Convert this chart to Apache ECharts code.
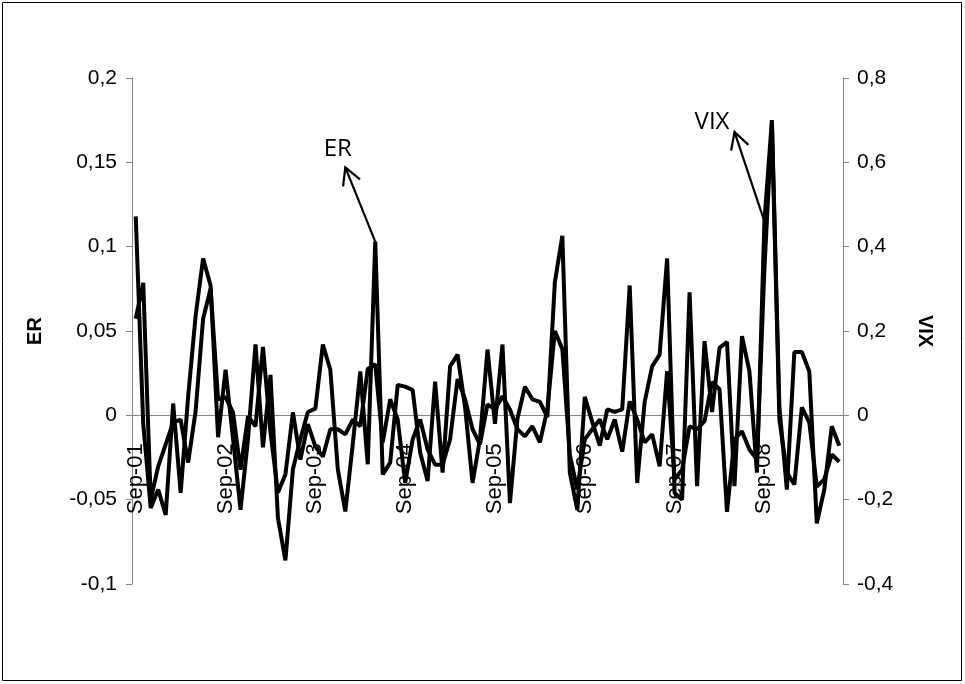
<!DOCTYPE html>
<html>
<head>
<meta charset="utf-8">
<script src="https://cdn.jsdelivr.net/npm/echarts@6/dist/echarts.min.js"></script>
<style>
html,body{margin:0;padding:0;background:#fff;}
#chart{width:965px;height:684px;}
</style>
</head>
<body>
<div id="chart"></div>
<script>
// Monthly observations from Sep-01 to Jul-09
const monthNames = ['Sep','Oct','Nov','Dec','Jan','Feb','Mar','Apr','May','Jun','Jul','Aug'];
const startYear = 1; // 2001, starting in September
const nPoints = 95;
const categories = [];
for (let i = 0; i < nPoints; i++) {
  const m = i % 12;
  const yr = startYear + Math.floor((i + 8) / 12);
  categories.push(monthNames[m] + '-' + String(yr).padStart(2, '0'));
}

// ER (left axis)
const erValues = [
  0.118, -0.005, -0.055, -0.044, -0.059, 0.007, -0.046, 0.011, 0.059, 0.093,
  0.077, -0.013, 0.027, -0.014, -0.056, -0.014, 0.042, -0.019, 0.024, -0.061,
  -0.086, -0.032, -0.014, 0.002, 0.004, 0.042, 0.027, -0.032, -0.057, -0.017,
  0.026, -0.029, 0.103, -0.035, -0.028, 0.018, 0.017, 0.015, -0.022, -0.039,
  0.020, -0.034, 0.029, 0.036, 0.005, -0.040, -0.014, 0.039, -0.005, 0.042,
  -0.052, -0.002, 0.017, 0.0095, 0.008, -0.001, 0.079, 0.1065, -0.034, -0.056,
  0.011, -0.004, -0.018, 0.0035, 0.002, 0.0035, 0.077, -0.040, 0.008, 0.029,
  0.036, 0.093, -0.046, -0.050, 0.073, -0.042, 0.044, 0.002, 0.040, 0.0435,
  -0.042, 0.047, 0.026, -0.034, 0.115, 0.175, 0.005, -0.044, 0.0375, 0.0375,
  0.026, -0.064, -0.044, -0.0065, -0.018
];

// VIX (right axis)
const vixValues = [
  0.229, 0.314, -0.200, -0.121, -0.069, -0.017, -0.010, -0.112, 0.010, 0.229,
  0.300, 0.038, 0.043, 0.007, -0.129, -0.002, -0.026, 0.162, -0.040, -0.183,
  -0.140, 0.007, -0.105, -0.021, -0.074, -0.098, -0.033, -0.033, -0.045, -0.010,
  -0.026, 0.110, 0.121, -0.064, 0.038, -0.010, -0.160, -0.057, -0.010, -0.081,
  -0.117, -0.117, -0.057, 0.086, 0.038, -0.033, -0.069, 0.026, 0.014, 0.045,
  0.014, -0.033, -0.050, -0.026, -0.064, 0.014, 0.200, 0.157, -0.093, -0.176,
  -0.057, -0.033, -0.010, -0.057, -0.010, -0.086, 0.033, -0.010, -0.064, -0.045,
  -0.121, 0.105, -0.152, -0.129, -0.026, -0.033, -0.014, 0.079, 0.062, -0.229,
  -0.057, -0.038, -0.081, -0.105, 0.348, 0.693, -0.010, -0.136, -0.164, 0.019,
  -0.017, -0.169, -0.152, -0.093, -0.110
];

// Left and right axis ranges
const erAxis = {min: -0.1, max: 0.2, interval: 0.05};
const vixAxis = {min: -0.4, max: 0.8, interval: 0.2};

// Annotation anchors (category index, value on own axis)
const erArrow = {from: [32, 0.103], to: [28.1, 0.147], text: [27.05, 0.158], label: 'ER'};
const vixArrow = {from: [84.1, 0.46], to: [79.5, 0.672], text: [76.6, 0.695], label: 'VIX'};

const fmt = v => {
  const s = parseFloat(v.toFixed(3)).toString();
  return s.replace('.', ',');
};

const labelFont = '"Liberation Sans", Arial, sans-serif';
const axisGray = '#868686';

const gridTop = 78, gridBottom = 100, H = 684;
const gridH = H - gridTop - gridBottom;
// place the category axis where the left value axis is zero
const zeroOffset = -gridH * (0 - erAxis.min) / (erAxis.max - erAxis.min);

const chart = echarts.init(document.getElementById('chart'));
chart.setOption({
  animation: false,
  backgroundColor: '#fff',
  grid: {left: 132, right: 122, top: gridTop, bottom: gridBottom, containLabel: false},
  xAxis: {
    type: 'category',
    data: categories,
    boundaryGap: true,
    offset: zeroOffset,
    axisLine: {onZero: false, lineStyle: {color: axisGray, width: 1}},
    axisTick: {show: false},
    axisLabel: {
      interval: 11,
      rotate: 90,
      margin: 28,
      color: '#000',
      fontSize: 22,
      fontFamily: labelFont
    },
    splitLine: {show: false}
  },
  yAxis: [
    {
      type: 'value',
      min: erAxis.min, max: erAxis.max, interval: erAxis.interval,
      position: 'left',
      name: 'ER',
      nameLocation: 'middle',
      nameRotate: 90,
      nameGap: 87,
      nameTextStyle: {fontSize: 20, fontWeight: 'bold', color: '#000', fontFamily: labelFont},
      axisLine: {show: true, onZero: false, lineStyle: {color: axisGray}},
      axisTick: {show: true, length: 6, lineStyle: {color: axisGray}},
      axisLabel: {formatter: fmt, margin: 15, color: '#000', fontSize: 21, fontFamily: labelFont},
      splitLine: {show: false}
    },
    {
      type: 'value',
      min: vixAxis.min, max: vixAxis.max, interval: vixAxis.interval,
      position: 'right',
      name: 'VIX',
      nameLocation: 'middle',
      nameRotate: -90,
      nameGap: 72,
      nameTextStyle: {fontSize: 20, fontWeight: 'bold', color: '#000', fontFamily: labelFont},
      axisLine: {show: true, onZero: false, lineStyle: {color: axisGray}},
      axisTick: {show: true, length: 6, lineStyle: {color: axisGray}},
      axisLabel: {formatter: fmt, margin: 14, color: '#000', fontSize: 21, fontFamily: labelFont},
      splitLine: {show: false}
    }
  ],
  series: [
    {
      name: 'ER', type: 'line', yAxisIndex: 0, data: erValues,
      symbol: 'none', lineStyle: {color: '#000', width: 4}, z: 3
    },
    {
      name: 'VIX', type: 'line', yAxisIndex: 1, data: vixValues,
      symbol: 'none', lineStyle: {color: '#000', width: 4}, z: 3
    }
  ]
});

function arrowGraphics(a, yAxisIndex) {
  const p0 = chart.convertToPixel({xAxisIndex: 0, yAxisIndex: yAxisIndex}, a.from);
  const p1 = chart.convertToPixel({xAxisIndex: 0, yAxisIndex: yAxisIndex}, a.to);
  const pt = chart.convertToPixel({xAxisIndex: 0, yAxisIndex: yAxisIndex}, a.text);
  const ang = Math.atan2(p0[1] - p1[1], p0[0] - p1[0]);
  const L = 19, spread = 0.5;
  const h1 = [p1[0] + L * Math.cos(ang + spread), p1[1] + L * Math.sin(ang + spread)];
  const h2 = [p1[0] + L * Math.cos(ang - spread), p1[1] + L * Math.sin(ang - spread)];
  return [
    {type: 'polyline', shape: {points: [p0, p1]}, style: {stroke: '#000', lineWidth: 2.2, fill: null}, z: 10},
    {type: 'polyline', shape: {points: [h1, p1, h2]}, style: {stroke: '#000', lineWidth: 2.2, fill: null}, z: 10},
    {type: 'text', x: pt[0], y: pt[1], style: {text: a.label, fill: '#000', font: '24px "Open Sans", "Liberation Sans", sans-serif', textAlign: 'center', textVerticalAlign: 'middle'}, z: 10}
  ];
}

chart.setOption({
  graphic: [
    {type: 'rect', shape: {x: 2.5, y: 2.5, width: 959, height: 678},
     style: {fill: 'none', stroke: '#000', lineWidth: 1}, silent: true, z: -1}
  ].concat(arrowGraphics(erArrow, 0), arrowGraphics(vixArrow, 1))
});
</script>
</body>
</html>
